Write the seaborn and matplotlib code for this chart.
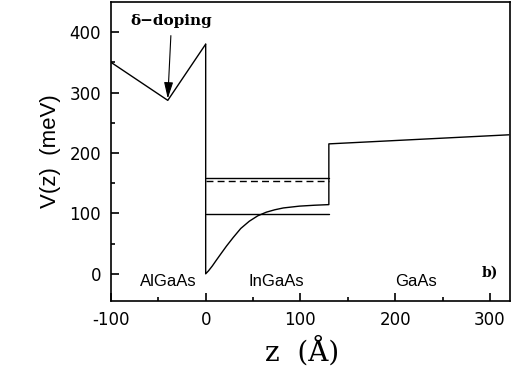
import numpy as np
import pandas as pd
import seaborn as sns
import matplotlib.pyplot as plt

# conduction band profile (z in Angstrom, V in meV)
barrier_z = [-100, -40, 0]
barrier_v = [350, 287, 380]

well_z = [0, 0, 3, 7, 11, 16, 22, 29, 37, 46, 55, 64, 73, 82, 99, 115, 130, 130, 320]
well_v = [380, 0, 5, 13, 22, 33, 46, 60, 75, 87, 96, 102, 106, 109, 112, 113.5, 114.5, 215, 230]

# subband levels inside the InGaAs well
level_z = [0, 130]
level_e1 = [99, 99]
level_e2 = [158, 158]
fermi_v = [153, 153]

regions = ["AlGaAs", "InGaAs", "GaAs"]
region_z = [-39, 75, 222]
region_v = [-13, -13, -13]

sns.set_style("ticks")
plt.rcParams["font.family"] = ["Liberation Sans", "DejaVu Sans"]
plt.rcParams["axes.unicode_minus"] = False
plt.rcParams["text.color"] = "black"
plt.rcParams["axes.labelcolor"] = "black"
plt.rcParams["xtick.color"] = "black"
plt.rcParams["ytick.color"] = "black"

fig = plt.figure(figsize=(5.16, 3.68), dpi=100)
ax = fig.add_axes([0.215, 0.182, 0.773, 0.813])

lw = 1.0
kw = dict(sort=False, estimator=None, errorbar=None, color="black", lw=lw, ax=ax)
sns.lineplot(x=barrier_z, y=barrier_v, **kw)
sns.lineplot(x=well_z, y=well_v, **kw)
sns.lineplot(x=level_z, y=level_e1, **kw)
sns.lineplot(x=level_z, y=level_e2, **kw)
sns.lineplot(x=level_z, y=fermi_v, **kw)
ax.lines[-1].set_dashes([5, 3])

for name, z, v in zip(regions, region_z, region_v):
    ax.text(z, v, name, ha="center", va="center", fontsize=12)

ax.text(300, 2, "b)", ha="center", va="center", fontsize=10,
        family="DejaVu Serif", weight="bold")
ax.annotate("\u03b4\u2212doping", xy=(-40, 290), xytext=(-36, 418),
            ha="center", va="center", fontsize=11,
            family="DejaVu Serif", weight="bold",
            arrowprops=dict(arrowstyle="-|>,head_length=0.9,head_width=0.25",
                            color="black", lw=0.8, shrinkA=3, shrinkB=0))

ax.set_xlim(-100, 321)
ax.set_ylim(-45, 450)
ax.set_xticks([-100, 0, 100, 200, 300])
ax.set_yticks([0, 100, 200, 300, 400])
ax.set_xticks([-50, 50, 150, 250], minor=True)
ax.set_yticks([50, 150, 250, 350], minor=True)
ax.tick_params(which="both", direction="in", top=False, right=False,
               labelsize=12, pad=7, width=1.2)
ax.tick_params(which="major", length=6)
ax.tick_params(which="minor", length=3)
for lab in ax.get_xticklabels() + ax.get_yticklabels():
    lab.set_family("DejaVu Sans")
for s in ax.spines.values():
    s.set_linewidth(1.2)
    s.set_color("black")

ax.set_ylabel("V(z)  (meV)", fontsize=16, labelpad=6)
ax.set_xlabel("z  (\u00c5)", fontsize=20, family="DejaVu Serif")
ax.xaxis.label.set_va("center")
ax.xaxis.set_label_coords(0.48, -0.17)

fig.savefig("out.png", dpi=100)
